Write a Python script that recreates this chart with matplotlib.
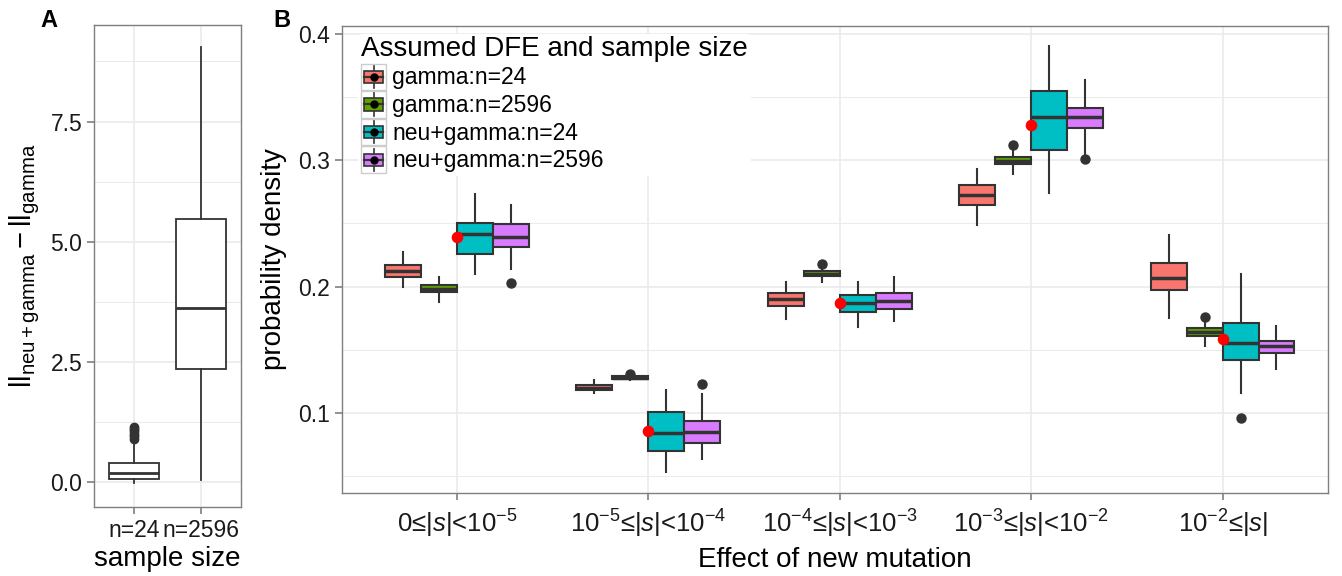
import numpy as np
import matplotlib
matplotlib.use("Agg")
import matplotlib.pyplot as plt
from matplotlib.legend_handler import HandlerBase
from matplotlib.patches import Rectangle, Patch
from matplotlib.lines import Line2D
from matplotlib.ticker import MultipleLocator

plt.rcParams['font.family'] = ['Liberation Sans', 'DejaVu Sans']
plt.rcParams['mathtext.fontset'] = 'custom'
plt.rcParams['mathtext.rm'] = 'Liberation Sans'
plt.rcParams['mathtext.it'] = 'Liberation Sans:italic'
plt.rcParams['mathtext.bf'] = 'Liberation Sans:bold'

# ---- panel A data: ll difference by sample size ----
sizes = ['n=24', 'n=2596']
a_whislo = [-0.03, 0.03]
a_q1 = [0.05, 2.35]
a_med = [0.19, 3.61]
a_q3 = [0.40, 5.47]
a_whishi = [0.87, 9.05]
a_fliers = [[0.90, 0.95, 1.00, 1.05, 1.10, 1.15], []]

# ---- panel B data: probability density by effect class ----
effect_labels = [r'0≤|$\mathit{s}$|<10$^{-5}$',
                 r'10$^{-5}$≤|$\mathit{s}$|<10$^{-4}$',
                 r'10$^{-4}$≤|$\mathit{s}$|<10$^{-3}$',
                 r'10$^{-3}$≤|$\mathit{s}$|<10$^{-2}$',
                 r'10$^{-2}$≤|$\mathit{s}$|']
groups = ['gamma:n=24', 'gamma:n=2596', 'neu+gamma:n=24', 'neu+gamma:n=2596']
colors = ['#F8766D', '#5FA300', '#00BFC4', '#D97BFF']

gamma24_whislo = [0.2000, 0.1157, 0.1740, 0.2488, 0.1748]
gamma24_q1 = [0.2076, 0.1180, 0.1843, 0.2643, 0.1971]
gamma24_med = [0.2120, 0.1200, 0.1898, 0.2722, 0.2071]
gamma24_q3 = [0.2168, 0.1220, 0.1947, 0.2801, 0.2184]
gamma24_whishi = [0.2273, 0.1258, 0.2037, 0.2929, 0.2404]
gamma24_fliers = [[], [], [], [], []]

gamma2596_whislo = [0.1874, 0.1262, 0.2039, 0.2893, 0.1533]
gamma2596_q1 = [0.1955, 0.1272, 0.2081, 0.2969, 0.1612]
gamma2596_med = [0.1978, 0.1280, 0.2102, 0.2996, 0.1640]
gamma2596_q3 = [0.2013, 0.1288, 0.2124, 0.3029, 0.1672]
gamma2596_whishi = [0.2079, 0.1298, 0.2150, 0.3094, 0.1732]
gamma2596_fliers = [[], [0.1305], [0.2181], [0.3123], [0.1758]]

neu24_whislo = [0.2102, 0.0534, 0.1677, 0.2743, 0.1160]
neu24_q1 = [0.2254, 0.0698, 0.1800, 0.3083, 0.1420]
neu24_med = [0.2417, 0.0841, 0.1866, 0.3341, 0.1551]
neu24_q3 = [0.2504, 0.1010, 0.1932, 0.3544, 0.1711]
neu24_whishi = [0.2732, 0.1184, 0.2037, 0.3903, 0.2097]
neu24_fliers = [[], [], [], [], [0.0963]]

neu2596_whislo = [0.2136, 0.0635, 0.1730, 0.3051, 0.1349]
neu2596_q1 = [0.2310, 0.0762, 0.1821, 0.3254, 0.1475]
neu2596_med = [0.2391, 0.0849, 0.1884, 0.3341, 0.1530]
neu2596_q3 = [0.2498, 0.0936, 0.1945, 0.3413, 0.1569]
neu2596_whishi = [0.2648, 0.1147, 0.2076, 0.3631, 0.1685]
neu2596_fliers = [[0.2024], [0.1226], [], [0.3006], []]

true_values = [0.2394, 0.0859, 0.1869, 0.3278, 0.1586]

b_stats = [
    (gamma24_whislo, gamma24_q1, gamma24_med, gamma24_q3, gamma24_whishi, gamma24_fliers),
    (gamma2596_whislo, gamma2596_q1, gamma2596_med, gamma2596_q3, gamma2596_whishi, gamma2596_fliers),
    (neu24_whislo, neu24_q1, neu24_med, neu24_q3, neu24_whishi, neu24_fliers),
    (neu2596_whislo, neu2596_q1, neu2596_med, neu2596_q3, neu2596_whishi, neu2596_fliers),
]

EDGE = '#333333'
GRID = '#EBEBEB'
FRAME = '#7F7F7F'


def make_stats(whislo, q1, med, q3, whishi, fliers):
    out = []
    for i in range(len(med)):
        out.append(dict(whislo=whislo[i], q1=q1[i], med=med[i], q3=q3[i],
                        whishi=whishi[i], fliers=fliers[i]))
    return out


def style_axes(ax):
    ax.set_facecolor('white')
    for sp in ax.spines.values():
        sp.set_color(FRAME)
        sp.set_linewidth(1.0)
    ax.tick_params(axis='both', which='major', color=FRAME, length=5, width=1.2,
                   labelsize=16.5, labelcolor='#1A1A1A')
    ax.tick_params(axis='both', which='minor', length=0)
    ax.grid(True, which='major', color=GRID, lw=1.2, zorder=0)
    ax.grid(True, which='minor', axis='y', color=GRID, lw=0.7, zorder=0)
    ax.set_axisbelow(True)


class BoxKey(HandlerBase):
    def create_artists(self, legend, orig_handle, xdescent, ydescent,
                       width, height, fontsize, trans):
        x0, y0 = -xdescent, -ydescent
        cx, cy = x0 + width / 2, y0 + height / 2
        bg = Rectangle((x0, y0), width, height, facecolor='white',
                       edgecolor='#CCCCCC', lw=1.0, transform=trans)
        wl = Line2D([cx, cx], [y0 + 0.08 * height, y0 + 0.92 * height],
                    color=EDGE, lw=1.2, transform=trans)
        box = Rectangle((x0 + 0.12 * width, y0 + 0.27 * height), 0.76 * width,
                        0.46 * height, facecolor=orig_handle.get_facecolor(),
                        edgecolor=EDGE, lw=1.2, transform=trans)
        med = Line2D([x0 + 0.12 * width, x0 + 0.88 * width], [cy, cy],
                     color=EDGE, lw=1.6, transform=trans)
        dot = Line2D([cx], [cy], marker='o', color='black', ms=5, lw=0,
                     transform=trans)
        return [bg, wl, box, med, dot]


fig = plt.figure(figsize=(13.42, 5.76), dpi=100)

# ---------------- panel A ----------------
axA = fig.add_axes([0.0700, 0.1203, 0.1095, 0.8363])
style_axes(axA)
statsA = make_stats(a_whislo, a_q1, a_med, a_q3, a_whishi, a_fliers)
axA.bxp(statsA, positions=[1, 2], widths=0.75, patch_artist=True, showcaps=False,
        boxprops=dict(facecolor='white', edgecolor=EDGE, lw=1.3),
        medianprops=dict(color=EDGE, lw=2.0),
        whiskerprops=dict(color=EDGE, lw=1.3),
        flierprops=dict(marker='o', markerfacecolor=EDGE, markeredgecolor=EDGE,
                        markersize=6))
axA.set_xlim(0.4, 2.6)
axA.set_ylim(-0.52, 9.51)
axA.set_xticks([1, 2])
axA.set_xticklabels(sizes)
axA.yaxis.set_minor_locator(MultipleLocator(1.25))
axA.set_yticks([0, 2.5, 5, 7.5])
axA.set_yticklabels(['0.0', '2.5', '5.0', '7.5'])
axA.set_xlabel('sample size', fontsize=20, labelpad=3)
axA.set_ylabel(r'$\mathrm{ll}_{\mathrm{neu+gamma}}-\mathrm{ll}_{\mathrm{gamma}}$',
               fontsize=21, labelpad=6)

# ---------------- panel B ----------------
axB = fig.add_axes([0.2548, 0.1441, 0.7347, 0.8108])
style_axes(axB)
cats = np.arange(1, len(effect_labels) + 1)
dodge = 0.75
bw = dodge / len(groups)
for g, (st, col) in enumerate(zip(b_stats, colors)):
    pos = cats - dodge / 2 + bw * (g + 0.5)
    axB.bxp(make_stats(*st), positions=pos, widths=bw, patch_artist=True,
            showcaps=False,
            boxprops=dict(facecolor=col, edgecolor=EDGE, lw=1.5),
            medianprops=dict(color=EDGE, lw=2.5),
            whiskerprops=dict(color=EDGE, lw=1.5),
            flierprops=dict(marker='o', markerfacecolor=EDGE, markeredgecolor=EDGE,
                            markersize=6.5))
axB.scatter(cats, true_values, s=70, color='#FF0000', zorder=5, lw=0)
axB.set_xlim(0.4, 5.55)
axB.set_ylim(0.0366, 0.4062)
axB.set_xticks(cats)
axB.set_xticklabels(effect_labels)
axB.tick_params(axis='x', which='major', labelsize=18.5, pad=6)
axB.yaxis.set_minor_locator(MultipleLocator(0.05))
axB.set_yticks([0.1, 0.2, 0.3, 0.4])
axB.set_yticklabels(['0.1', '0.2', '0.3', '0.4'])
axB.set_xlabel('Effect of new mutation', fontsize=20, labelpad=5)
axB.set_ylabel('probability density', fontsize=20, labelpad=8)

handles = [Patch(facecolor=c) for c in colors]
leg = axB.legend(handles, groups, title='Assumed DFE and sample size',
                 loc='upper left', bbox_to_anchor=(0.005, 1.008), fontsize=16.5,
                 title_fontsize=20, frameon=True, framealpha=1, edgecolor='none',
                 facecolor='white', handler_map={Patch: BoxKey()},
                 handlelength=1.1, handleheight=1.4, labelspacing=0.05,
                 handletextpad=0.25, borderpad=0.12, alignment='left')
leg.get_frame().set_linewidth(0)

fig.text(0.030, 0.985, 'A', fontsize=17, fontweight='bold', va='top')
fig.text(0.204, 0.985, 'B', fontsize=17, fontweight='bold', va='top')

fig.savefig('out.png', dpi=100)
